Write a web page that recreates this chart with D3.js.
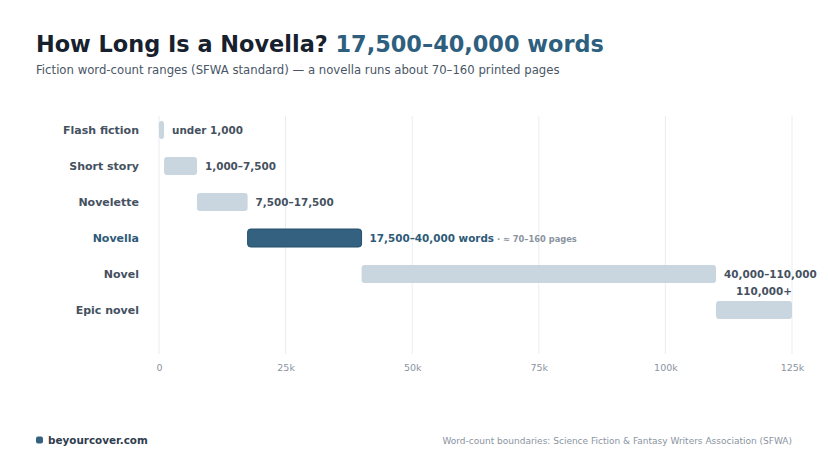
<!DOCTYPE html>
<html><head><meta charset="utf-8">
<script src="https://cdn.jsdelivr.net/npm/d3@7"></script>
<style>body{margin:0;background:#fff}svg{display:block;font-family:"DejaVu Sans",sans-serif}</style>
</head><body><svg id="c" width="828" height="466"></svg>
<script>
const categories = ["Flash fiction","Short story","Novelette","Novella","Novel","Epic novel"];
const starts = [0, 1000, 7500, 17500, 40000, 110000];
const ends = [1000, 7500, 17500, 40000, 110000, 125000];
const rangeLabels = ["under 1,000","1,000–7,500","7,500–17,500","17,500–40,000 words","40,000–110,000","110,000+"];
const tickValues = [0, 25000, 50000, 75000, 100000, 125000];
const tickLabels = ["0","25k","50k","75k","100k","125k"];
const highlight = "Novella";

const svg = d3.select("#c");
const x = d3.scaleLinear().domain([0,125000]).range([159,792]);
const y = d3.scaleBand().domain(categories).range([112,328]).paddingInner(0.5).paddingOuter(0.25);

// title
const t = svg.append("text").attr("x",36).attr("y",52).attr("font-size",22.4).attr("font-weight","bold").attr("fill","#17212e");
t.append("tspan").text("How Long Is a Novella? ");
t.append("tspan").attr("fill","#2e5f7e").text("17,500–40,000 words");
svg.append("text").attr("x",36).attr("y",74).attr("font-size",11.7).attr("fill","#4a5666")
  .text("Fiction word-count ranges (SFWA standard) — a novella runs about 70–160 printed pages");

// grid
svg.append("g").selectAll("line").data(tickValues).join("line")
  .attr("x1",d=>x(d)).attr("x2",d=>x(d)).attr("y1",116).attr("y2",354)
  .attr("stroke","#e8edf2").attr("stroke-width",1);

// axis
const ax = svg.append("g").attr("transform","translate(0,354)")
  .call(d3.axisBottom(x).tickValues(tickValues).tickFormat((d,i)=>tickLabels[i]).tickSize(0).tickPadding(10));
ax.select(".domain").remove();
ax.selectAll("text").attr("font-size",9.5).attr("fill","#8a949f").attr("font-family","DejaVu Sans");

// category labels
svg.append("g").selectAll("text").data(categories).join("text")
  .attr("x",139).attr("y",d=>y(d)+y.bandwidth()/2).attr("dy","0.35em")
  .attr("text-anchor","end").attr("font-size",11).attr("font-weight","bold")
  .attr("fill",d=>d===highlight?"#2e5a78":"#45515f").text(d=>d);

// bars
svg.append("g").selectAll("rect").data(categories).join("rect")
  .attr("x",(d,i)=>x(starts[i])).attr("y",d=>y(d))
  .attr("width",(d,i)=>x(ends[i])-x(starts[i])).attr("height",y.bandwidth())
  .attr("rx",3)
  .attr("fill",d=>d===highlight?"#33617f":"#c9d6df")
  .attr("stroke",d=>d===highlight?"#24506c":"none");

// value labels
categories.forEach((c,i)=>{
  const last = i===categories.length-1;
  const tx = svg.append("text").attr("font-size",10.4).attr("font-weight","bold")
    .attr("fill",c===highlight?"#2e5a78":"#45515f");
  if(last){
    tx.attr("x",x(ends[i])).attr("y",y(c)-6).attr("text-anchor","end").text(rangeLabels[i]);
  } else {
    tx.attr("x",x(ends[i])+8).attr("y",y(c)+y.bandwidth()/2).attr("dy","0.35em").text(rangeLabels[i]);
    if(c===highlight){
      tx.append("tspan").attr("font-size",8.3).attr("fill","#8a949f").text(" · ≈ 70–160 pages");
    }
  }
});

// footer
svg.append("rect").attr("x",36).attr("y",436.5).attr("width",7).attr("height",7).attr("rx",2).attr("fill","#33617f");
svg.append("text").attr("x",48).attr("y",444).attr("font-size",10.4).attr("font-weight","bold").attr("fill","#2f3d4e").text("beyourcover.com");
svg.append("text").attr("x",792).attr("y",444).attr("text-anchor","end").attr("font-size",9).attr("fill","#8a949f")
  .text("Word-count boundaries: Science Fiction & Fantasy Writers Association (SFWA)");
</script></body></html>
